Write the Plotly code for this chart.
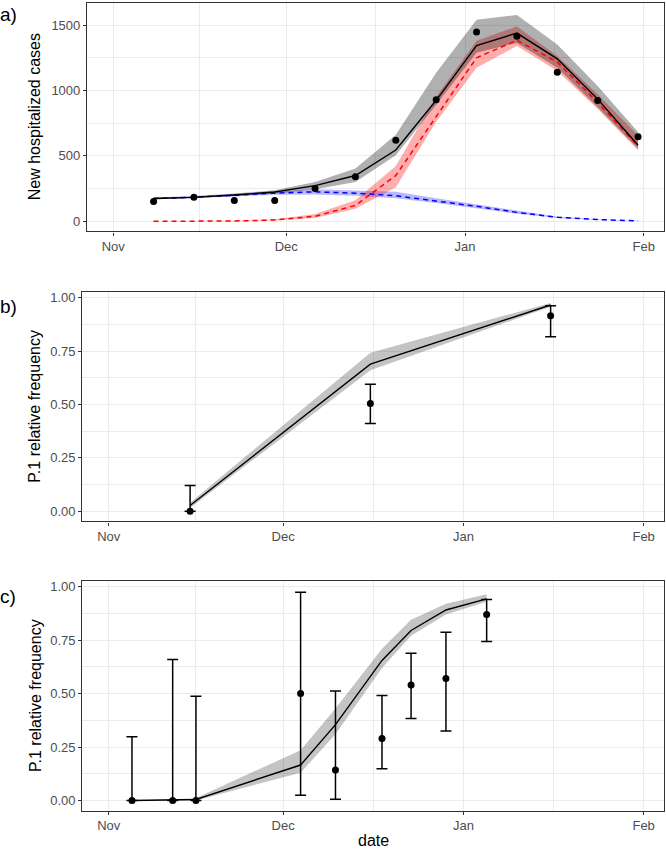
import plotly.graph_objects as go

# panel a: weekly hospitalisations and model fit
dates_a = ["2020-11-08", "2020-11-15", "2020-11-22", "2020-11-29", "2020-12-06",
           "2020-12-13", "2020-12-20", "2020-12-27", "2021-01-03", "2021-01-10",
           "2021-01-17", "2021-01-24", "2021-01-31"]
observed_a = [151, 184, 159, 159, 250, 341, 619, 929, 1447, 1414, 1139, 924, 646]
total_mid = [174, 183, 201, 224, 272, 350, 545, 925, 1343, 1439, 1242, 934, 581]
total_lo = [166, 178, 193, 210, 245, 300, 505, 890, 1288, 1364, 1174, 871, 555]
total_hi = [182, 194, 212, 238, 300, 404, 661, 1136, 1540, 1578, 1351, 1035, 682]
p1_mid = [0, 0, 2, 10, 38, 121, 350, 800, 1250, 1384, 1217, 909, 574]
p1_lo = [0, 0, 1, 6, 25, 95, 260, 760, 1174, 1340, 1149, 859, 543]
p1_hi = [1, 2, 4, 15, 55, 160, 422, 952, 1381, 1490, 1263, 972, 657]
other_mid = [174, 183, 199, 215, 225, 215, 195, 157, 114, 68, 30, 13, 3]
other_lo = [168, 177, 190, 203, 205, 195, 176, 140, 100, 58, 25, 10, 2]
other_hi = [180, 190, 208, 228, 245, 235, 225, 175, 128, 78, 36, 16, 4]

# panel b: monthly P.1 frequency
dates_b = ["2020-11-15", "2020-12-16", "2021-01-16"]
freq_b = [0.0, 0.505, 0.916]
freq_b_lo = [0.0, 0.411, 0.818]
freq_b_hi = [0.12, 0.595, 0.963]
model_b = [0.027, 0.689, 0.966]
model_b_lo = [0.015, 0.661, 0.958]
model_b_hi = [0.040, 0.743, 0.976]

# panel c: finer sampling of P.1 frequency
dates_c = ["2020-11-05", "2020-11-12", "2020-11-16", "2020-12-04", "2020-12-10",
           "2020-12-18", "2020-12-23", "2020-12-29", "2021-01-05"]
freq_c = [0.0, 0.0, 0.0, 0.5, 0.143, 0.29, 0.54, 0.571, 0.87]
freq_c_lo = [0.0, 0.0, 0.0, 0.025, 0.006, 0.148, 0.384, 0.325, 0.744]
freq_c_hi = [0.298, 0.659, 0.488, 0.974, 0.512, 0.491, 0.689, 0.787, 0.94]
model_c = [0.0, 0.002, 0.005, 0.166, 0.355, 0.655, 0.795, 0.891, 0.943]
model_c_lo = [0.0, 0.0, 0.0, 0.13, 0.31, 0.62, 0.77, 0.87, 0.93]
model_c_hi = [0.001, 0.005, 0.012, 0.235, 0.43, 0.71, 0.845, 0.92, 0.965]

FONT = "Liberation Sans, Arial, Helvetica, sans-serif"
GRID = "#EBEBEB"
BORDER = "#333333"
X_RANGE = ["2020-10-27 11:00", "2021-02-04 12:00"]
X_MINOR = ["2020-11-16", "2020-12-16 12:00", "2021-01-16 12:00"]

fig = go.Figure()


def band(x, lo, hi, color, xa, ya):
    fig.add_trace(go.Scatter(x=x, y=lo, mode="lines", line=dict(width=0),
                             hoverinfo="skip", xaxis=xa, yaxis=ya))
    fig.add_trace(go.Scatter(x=x, y=hi, mode="lines", line=dict(width=0),
                             fill="tonexty", fillcolor=color,
                             hoverinfo="skip", xaxis=xa, yaxis=ya))


def line(x, y, color, xa, ya, dash="solid", width=1.4):
    fig.add_trace(go.Scatter(x=x, y=y, mode="lines",
                             line=dict(color=color, width=width, dash=dash),
                             xaxis=xa, yaxis=ya))


def points(x, y, xa, ya, lo=None, hi=None):
    err = None
    if lo is not None:
        err = dict(type="data", symmetric=False,
                   array=[h - v for h, v in zip(hi, y)],
                   arrayminus=[v - l for v, l in zip(y, lo)],
                   color="black", thickness=1.5, width=5.5)
    fig.add_trace(go.Scatter(x=x, y=y, mode="markers",
                             marker=dict(color="black", size=7),
                             error_y=err, xaxis=xa, yaxis=ya))


# panel a
band(dates_a, other_lo, other_hi, "rgba(0,0,255,0.28)", "x", "y")
band(dates_a, p1_lo, p1_hi, "rgba(255,0,0,0.32)", "x", "y")
band(dates_a, total_lo, total_hi, "rgba(0,0,0,0.31)", "x", "y")
line(dates_a, other_mid, "#0000FF", "x", "y", dash="5px,4px", width=1.5)
line(dates_a, p1_mid, "#FF0000", "x", "y", dash="5px,4px", width=1.5)
line(dates_a, total_mid, "black", "x", "y")
points(dates_a, observed_a, "x", "y")

# panel b
band(dates_b, model_b_lo, model_b_hi, "rgba(0,0,0,0.23)", "x2", "y2")
line(dates_b, model_b, "black", "x2", "y2")
points(dates_b, freq_b, "x2", "y2", freq_b_lo, freq_b_hi)

# panel c
band(dates_c, model_c_lo, model_c_hi, "rgba(0,0,0,0.23)", "x3", "y3")
line(dates_c, model_c, "black", "x3", "y3")
points(dates_c, freq_c, "x3", "y3", freq_c_lo, freq_c_hi)

H = 849.0
W = 666.0


def ydom(top, bottom):
    return [(H - bottom) / H, (H - top) / H]


x_common = dict(
    type="date", range=X_RANGE, tickformat="%b", dtick="M1", tick0="2020-11-01",
    showgrid=True, gridcolor=GRID, gridwidth=1,
    minor=dict(tickmode="array", tickvals=X_MINOR, showgrid=True,
               gridcolor=GRID, gridwidth=0.6),
    showline=True, linecolor=BORDER, linewidth=1.2, mirror=True,
    ticks="outside", ticklen=3, tickcolor=BORDER, tickwidth=1,
    tickfont=dict(family=FONT, size=13, color="#4D4D4D"), zeroline=False,
)
y_common = dict(
    showgrid=True, gridcolor=GRID, gridwidth=1,
    showline=True, linecolor=BORDER, linewidth=1.2, mirror=True,
    ticks="outside", ticklen=3, tickcolor=BORDER, tickwidth=1,
    tickfont=dict(family=FONT, size=13, color="#4D4D4D"), zeroline=False,
)
frac_ticks = dict(tickmode="array", tickvals=[0, 0.25, 0.5, 0.75, 1.0],
                  ticktext=["0.00", "0.25", "0.50", "0.75", "1.00"],
                  minor=dict(tickmode="array", tickvals=[0.125, 0.375, 0.625, 0.875],
                             showgrid=True, gridcolor=GRID, gridwidth=0.6))

fig.update_layout(
    width=666, height=849,
    margin=dict(l=0, r=0, t=0, b=0),
    paper_bgcolor="white", plot_bgcolor="white",
    showlegend=False,
    font=dict(family=FONT, color="black"),
    xaxis=dict(domain=[87 / W, 664 / W], anchor="y", **x_common),
    yaxis=dict(domain=ydom(1, 230), anchor="x", range=[-78, 1669],
               tickmode="array", tickvals=[0, 500, 1000, 1500],
               minor=dict(tickmode="array", tickvals=[250, 750, 1250],
                          showgrid=True, gridcolor=GRID, gridwidth=0.6),
               **y_common),
    xaxis2=dict(domain=[82.3 / W, 664 / W], anchor="y2", **x_common),
    yaxis2=dict(domain=ydom(290.7, 520.7), anchor="x2", range=[-0.048, 1.027],
                **frac_ticks, **y_common),
    xaxis3=dict(domain=[82.3 / W, 664 / W], anchor="y3", **x_common),
    yaxis3=dict(domain=ydom(580.7, 810.7), anchor="x3", range=[-0.048, 1.025],
                **frac_ticks, **y_common),
)

title_font = dict(family=FONT, size=16, color="black")
label_font = dict(family=FONT, size=19, color="black")
annotations = [
    dict(text="New hospitalized cases", x=34 / W, y=1 - 115.5 / H, textangle=-90),
    dict(text="P.1 relative frequency", x=35 / W, y=1 - 405.7 / H, textangle=-90),
    dict(text="P.1 relative frequency", x=35 / W, y=1 - 695.7 / H, textangle=-90),
]
for a in annotations:
    fig.add_annotation(xref="paper", yref="paper", showarrow=False,
                       xanchor="center", yanchor="middle", font=title_font, **a)
fig.add_annotation(text="date", xref="paper", yref="paper", x=373 / W, y=0,
                   xanchor="center", yanchor="bottom", showarrow=False,
                   font=title_font, yshift=-2)
for lab, top in [("a)", 0), ("b)", 293), ("c)", 583)]:
    fig.add_annotation(text=lab, xref="paper", yref="paper", x=0, y=1 - top / H,
                       xanchor="left", yanchor="top", showarrow=False,
                       font=label_font, xshift=-2)

# the page body has a default margin; drop it so the figure fills the window
fig.write_html("out.html",
               config={"displayModeBar": False},
               post_script="document.body.style.margin='0';"
                           "document.body.style.overflow='hidden';")
